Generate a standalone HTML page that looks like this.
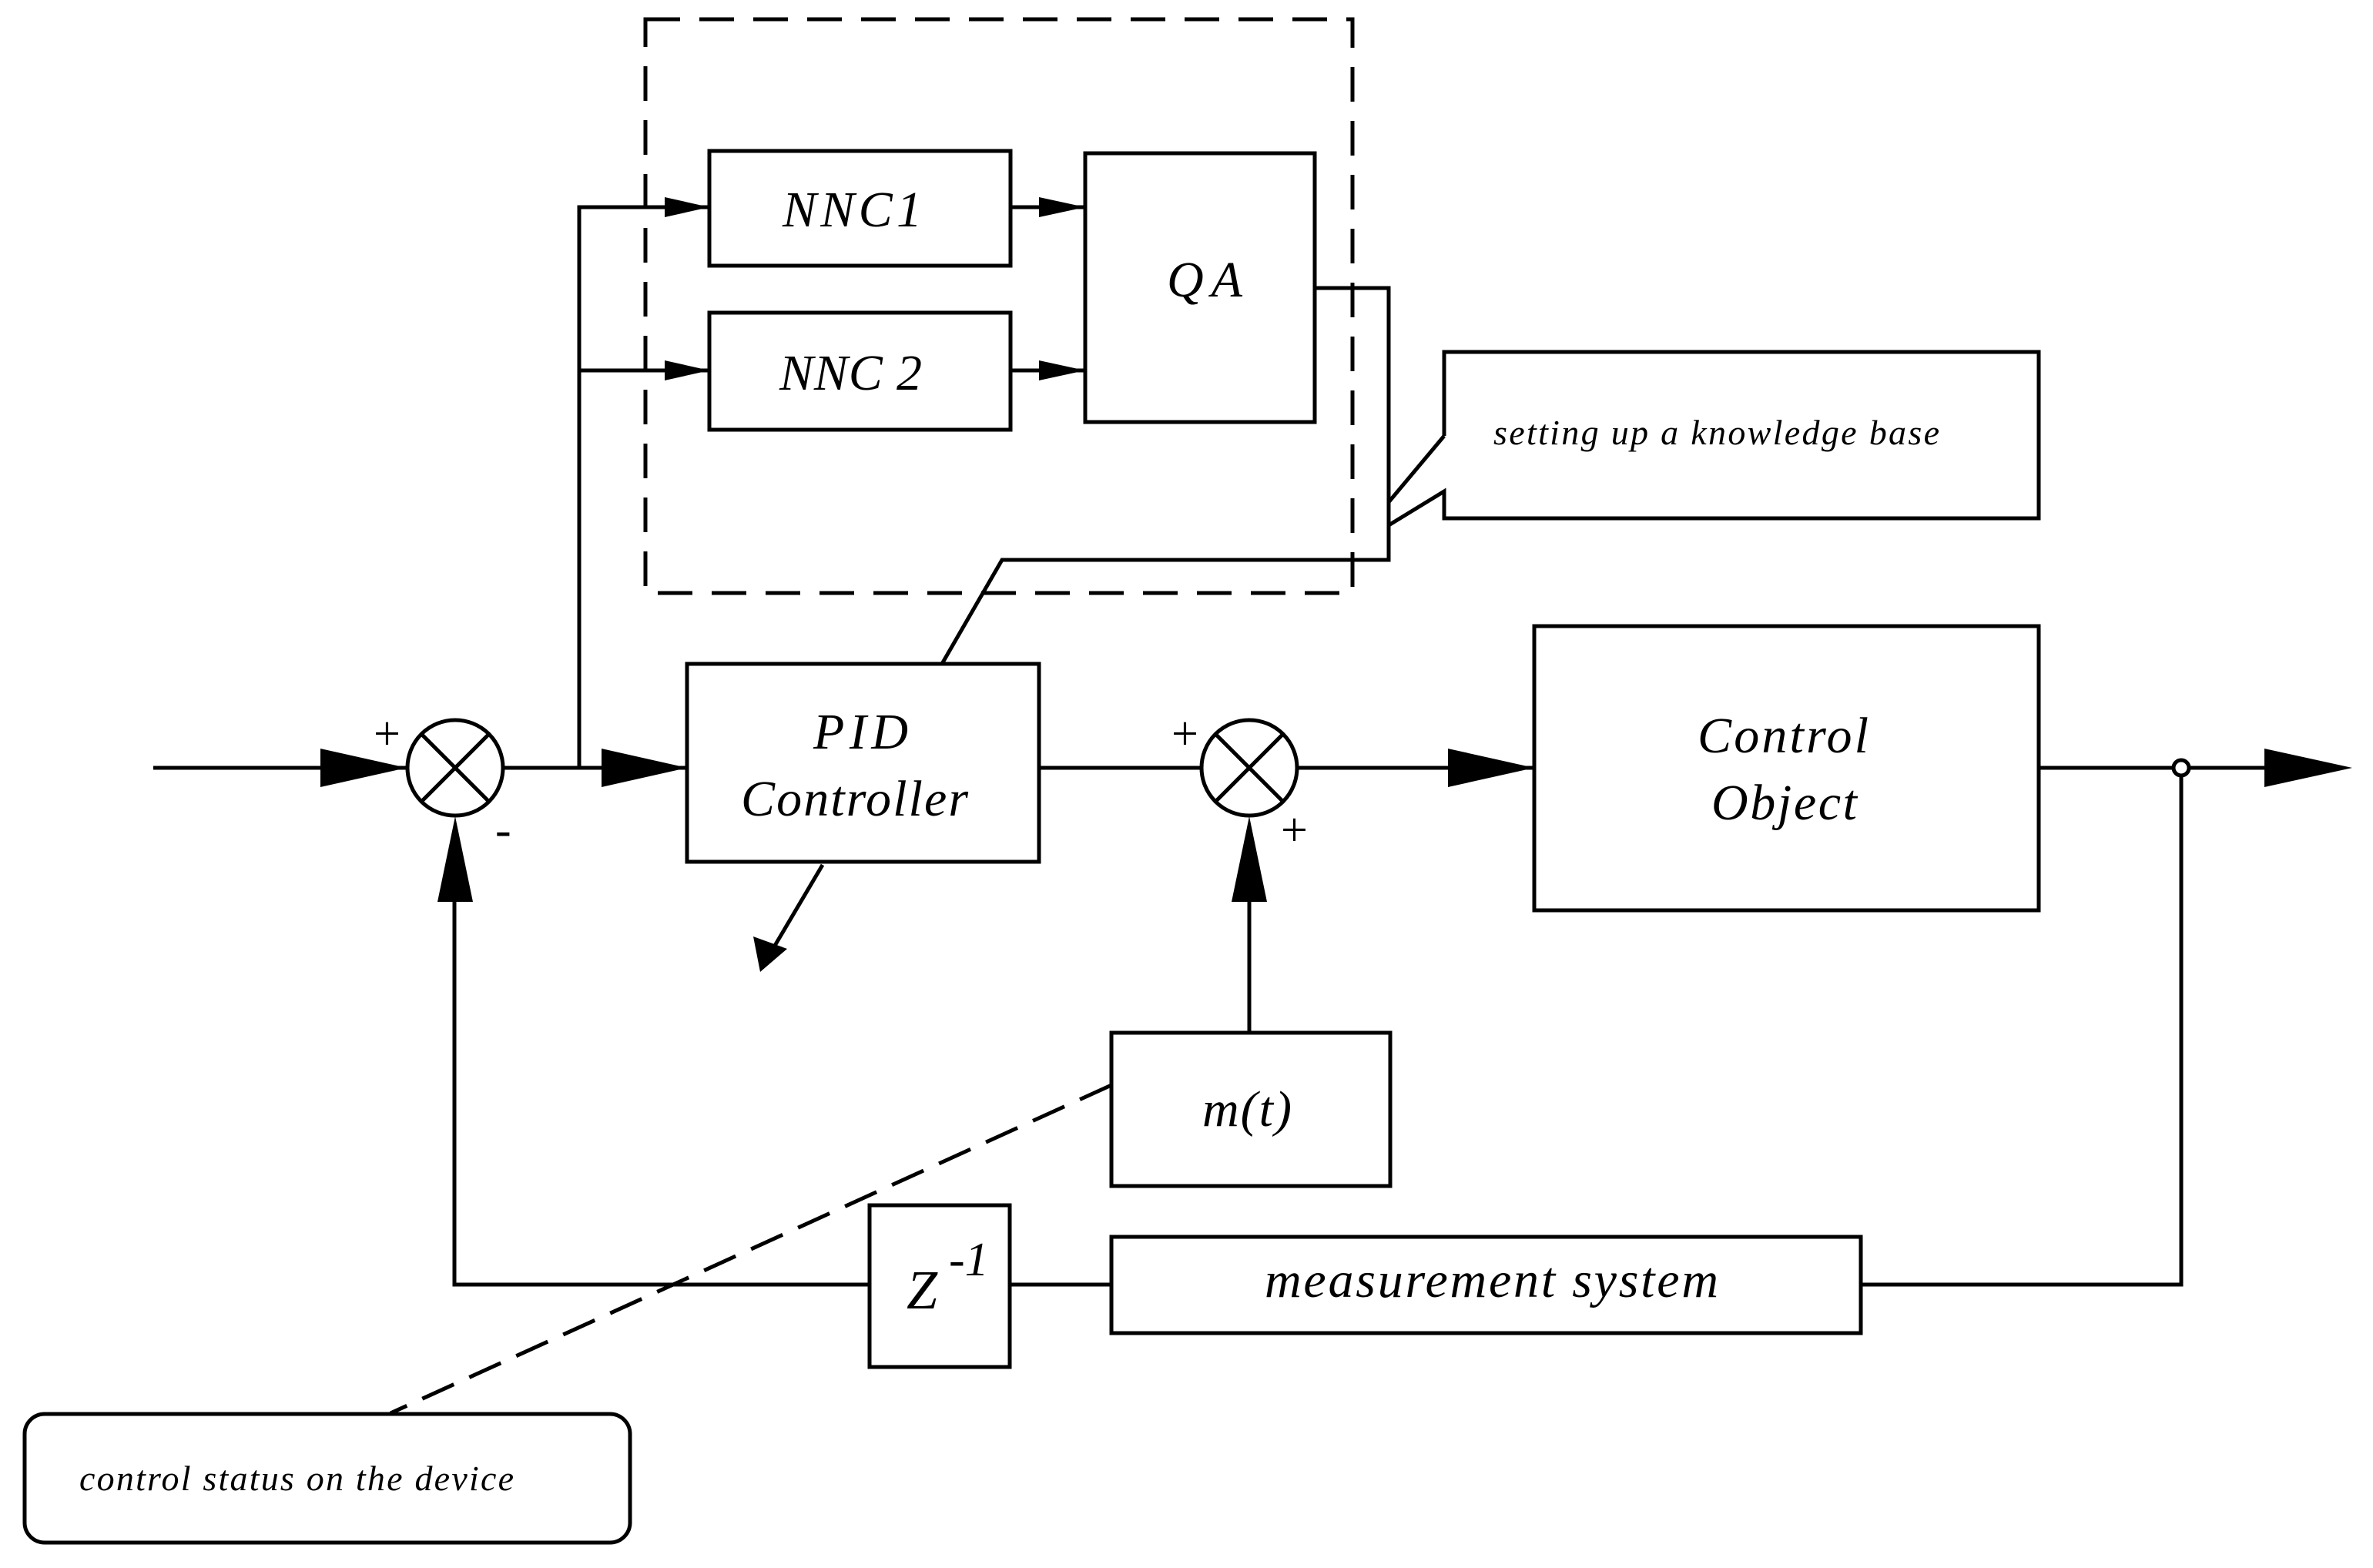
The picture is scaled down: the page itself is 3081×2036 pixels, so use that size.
<!DOCTYPE html>
<html><head><meta charset="utf-8"><style>
html,body{margin:0;padding:0;background:#fff;}
svg{display:block;}
text{font-family:"Liberation Serif",serif;font-style:italic;fill:#000;}
</style></head><body>
<svg width="3081" height="2036" viewBox="0 0 3081 2036" xmlns="http://www.w3.org/2000/svg">
<g fill="none" stroke="#000" stroke-width="5">
<rect x="838" y="25" width="918" height="745" stroke-dasharray="45,25"/>
<rect x="921" y="196" width="391" height="149"/>
<rect x="921" y="406" width="391" height="152"/>
<rect x="1409" y="199" width="298" height="349"/>
<rect x="892" y="862" width="457" height="257"/>
<rect x="1992" y="813" width="655" height="369"/>
<rect x="1443" y="1341" width="362" height="199"/>
<rect x="1443" y="1606" width="973" height="125"/>
<rect x="1129" y="1565" width="182" height="210"/>
<rect x="32" y="1836" width="786" height="167" rx="26"/>
<path d="M1875 566 L1875 457 L2647 457 L2647 673 L1875 673 L1875 638 L1803 682 M1875 566 L1803 652"/>
<circle cx="591" cy="997" r="62"/>
<path d="M547 953 L635 1041 M635 953 L547 1041"/>
<circle cx="1622" cy="997" r="62"/>
<path d="M1578 953 L1666 1041 M1666 953 L1578 1041"/>
<path d="M199 997 L529 997"/>
<path d="M653 997 L892 997"/>
<path d="M752 997 L752 269 L921 269 M752 481 L921 481"/>
<path d="M1312 269 L1409 269 M1312 481 L1409 481"/>
<path d="M1349 997 L1560 997"/>
<path d="M1684 997 L1992 997"/>
<path d="M2647 997 L2990 997"/>
<path d="M2832 997 L2832 1668 L2416 1668"/>
<path d="M1443 1668 L1311 1668"/>
<path d="M1129 1668 L590 1668 L590 1100"/>
<path d="M1622 1341 L1622 1100"/>
<path d="M1708 374 L1803 374 L1803 727 L1301 727 L1223 862"/>
<path d="M1068 1123 L1000 1238"/>
<path d="M1443 1409 L507 1835" stroke-dasharray="45,22"/>
</g>
<circle cx="2832" cy="997" r="10" fill="#fff" stroke="#000" stroke-width="5"/>
<g fill="#000">
<polygon points="416,972 528,997 416,1022"/>
<polygon points="781,972 892,997 781,1022"/>
<polygon points="863,256 921,269 863,282"/>
<polygon points="863,468 921,481 863,494"/>
<polygon points="1349,256 1409,269 1349,282"/>
<polygon points="1349,468 1409,481 1349,494"/>
<polygon points="1880,972 1992,997 1880,1022"/>
<polygon points="2940,972 3054,997 2940,1022"/>
<polygon points="568,1171 591,1060 614,1171"/>
<polygon points="1599,1171 1622,1060 1645,1171"/>
<polygon points="978,1216 987,1262 1022,1232"/>
</g>
<g font-size="66">
<text x="1016" y="294" textLength="181">NNC1</text>
<text x="1012" y="506" textLength="185">NNC 2</text>
<text x="1515" y="385" textLength="98">QA</text>
<text x="1056" y="972" textLength="123">PID</text>
<text x="962" y="1059" textLength="295">Controller</text>
<text x="2204" y="977" textLength="222">Control</text>
<text x="2222" y="1064" textLength="189">Object</text>
<text x="1561" y="1462" textLength="116">m(t)</text>
<text x="1642" y="1684" textLength="589">measurement system</text>
</g>
<text x="1939" y="577" font-size="46" textLength="579">setting up a knowledge base</text>
<text x="103" y="1935" font-size="46" textLength="564">control status on the device</text>
<text x="1177" y="1699" font-size="72">Z</text>
<text x="1232" y="1656" font-size="62">-1</text>
<g font-size="62">
<text x="485" y="973" style="font-style:normal">+</text>
<text x="643" y="1098" style="font-style:normal">-</text>
<text x="1521" y="973" style="font-style:normal">+</text>
<text x="1663" y="1098" style="font-style:normal">+</text>
</g>
</svg>
</body></html>
